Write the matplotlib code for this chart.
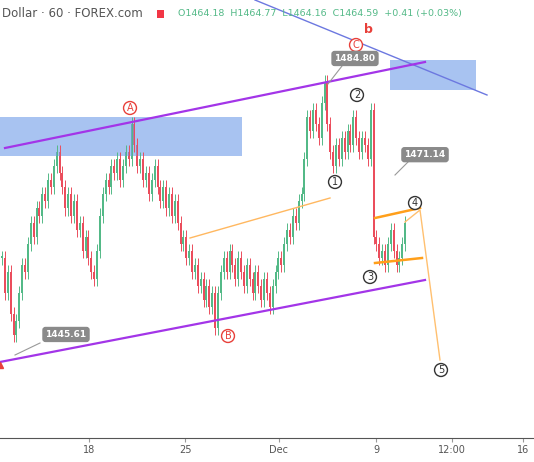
import numpy as np
import matplotlib.pyplot as plt
from matplotlib.patches import Rectangle, FancyBboxPatch

# hourly closes
closes = [1457, 1452, 1455, 1449, 1446,
          1448, 1452, 1456, 1455, 1459, 1462, 1460, 1464, 1463, 1466, 1465, 1468,
          1467, 1470, 1472, 1469, 1467, 1464, 1466,
          1463, 1465, 1461, 1462, 1458, 1460, 1457, 1455, 1454,
          1458, 1463, 1466, 1468, 1467, 1470, 1469, 1471, 1468, 1470, 1472, 1471, 1476,
          1473, 1470, 1471, 1468, 1469, 1466, 1468, 1470, 1467, 1465, 1467, 1464, 1466, 1463, 1465, 1462,
          1459, 1460, 1457, 1458, 1455, 1456, 1453, 1454, 1451, 1453, 1450, 1452, 1447,
          1452, 1455, 1457, 1455, 1458, 1456, 1454, 1457, 1455, 1453, 1456, 1454, 1452, 1455, 1453, 1451, 1454, 1452, 1450, 1453,
          1455, 1457, 1456, 1459, 1461, 1460, 1463, 1462, 1465, 1466,
          1471, 1477, 1475, 1478, 1476, 1474, 1479, 1482,
          1476, 1472, 1470, 1473, 1471, 1474, 1472, 1475, 1473, 1477, 1474, 1472, 1474, 1473, 1471, 1478,
          1460, 1459, 1457, 1458, 1456, 1459, 1461, 1458, 1456, 1457, 1459, 1462]
tick_pos = [89, 185, 279, 376, 452, 523]
tick_labels = ['18', '25', 'Dec', '9', '12:00', '16']
price_tags = [('1484.80', 355, 1484.8), ('1471.14', 425, 1471.14), ('1445.61', 66, 1445.61)]

def py(y):
    # pixel row -> price
    return 1484.8 - (y - 62) * 0.142

fig = plt.figure(figsize=(5.34, 4.62), dpi=100)
ax = fig.add_axes([0, 24 / 462, 1, 1 - 24 / 462])
ax.set_xlim(0, 534)
ax.set_ylim(py(438), py(0))

x = 2 + 2.88 * np.arange(len(closes))
opens = np.r_[closes[0], closes[:-1]]
closes = np.array(closes, float)
for xi, o, c in zip(x, opens, closes):
    col = '#53b987' if c >= o else '#eb4d5c'
    ax.vlines(xi, min(o, c) - 1.0, max(o, c) + 1.0, color=col, lw=0.7)
    ax.add_patch(Rectangle((xi - 1, min(o, c)), 2, max(abs(c - o), 0.2), color=col, lw=0))

# zones
ax.add_patch(Rectangle((0, py(156)), 242, py(117) - py(156), color='#6e9ce8', alpha=0.6, lw=0))
ax.add_patch(Rectangle((390, py(90)), 86, py(60) - py(90), color='#6e9ce8', alpha=0.6, lw=0))
ax.plot([255, 487], [py(0), py(95)], color='#6c78e0', lw=1)
# channel
ax.plot([5, 425], [py(148), py(62)], color='#a335e8', lw=1.6)
ax.plot([0, 425], [py(362), py(280)], color='#a335e8', lw=1.6)
# orange lines
ax.plot([190, 330], [py(238), py(198)], color='#ffb860', lw=1)
ax.plot([375, 420], [py(218), py(208)], color='#ff9f1a', lw=1.8)
ax.plot([375, 422], [py(263), py(258)], color='#ff9f1a', lw=1.8)
ax.plot([405, 420, 440], [py(222), py(210), py(360)], color='#ffc070', lw=1)

def circ(xp, yp, t, col):
    ax.text(xp, py(yp), t, ha='center', va='center', fontsize=7, color=col,
            bbox=dict(boxstyle='circle,pad=0.15', fc='white', ec=col, lw=1))

for xp, yp, t in [(130, 108, 'A'), (228, 336, 'B'), (356, 45, 'C')]:
    circ(xp, yp, t, '#e8403a')
for xp, yp, t in [(335, 182, '1'), (357, 95, '2'), (370, 277, '3'), (415, 203, '4'), (441, 370, '5')]:
    circ(xp, yp, t, '#333333')
ax.text(368, py(30), 'b', ha='center', va='center', fontsize=9, color='#e8403a', weight='bold')

for t, xp, p in price_tags:
    ax.text(xp, p + 0.5, t, ha='center', va='center', fontsize=6.5, color='white', weight='bold',
            bbox=dict(boxstyle='round,pad=0.35', fc='#8a8a8a', ec='none'))
ax.plot([328, 342], [py(84), py(66)], color='#999999', lw=0.8)
ax.plot([395, 410], [py(175), py(160)], color='#999999', lw=0.8)
ax.plot([15, 40], [py(355), py(343)], color='#999999', lw=0.8)
ax.plot([0], [py(365)], marker='^', color='#e8403a', ms=5, clip_on=False)

ax.text(2, py(14), 'Dollar · 60 · FOREX.com', fontsize=8.5, color='#555555', va='center')
ax.add_patch(Rectangle((157, py(18)), 7, py(10) - py(18), color='#f23645', lw=0))
ax.text(178, py(14), 'O1464.18  H1464.77  L1464.16  C1464.59  +0.41 (+0.03%)',
        fontsize=6.8, color='#53b987', va='center')

ax.set_xticks(tick_pos)
ax.set_xticklabels(tick_labels, fontsize=7, color='#555555')
ax.set_yticks([])
ax.tick_params(axis='x', length=3, color='#999999', pad=2)
for s in ['top', 'right', 'left']:
    ax.spines[s].set_visible(False)
ax.spines['bottom'].set_color('#555555')
fig.savefig('out.png', dpi=100)
